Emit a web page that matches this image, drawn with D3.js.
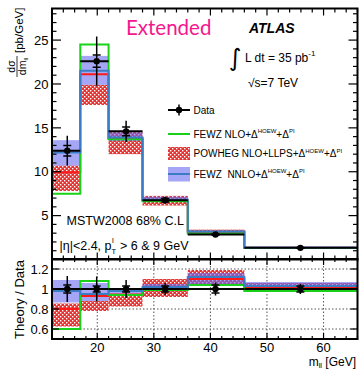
<!DOCTYPE html>
<html>
<head>
<meta charset="utf-8">
<script src="https://cdn.jsdelivr.net/npm/d3@7"></script>
<style>
  body { margin: 0; background: #fff; }
  svg text { font-family: "Liberation Sans", Arial, sans-serif; fill: #000; }
</style>
</head>
<body>
<svg id="chart" width="360" height="369"></svg>
<script>
// bins in m_ll [GeV]
const binEdges = [12, 17, 22, 28, 36, 46, 66];

// top panel: dsigma/dm_ll [pb/GeV]
const dataX = [14.7, 19.9, 25.1, 32.0, 40.9, 55.9];
const dataY = [12.4, 22.6, 14.6, 6.75, 2.85, 1.33];
const dataStat = [0.6, 0.7, 0.5, 0.2, 0.08, 0.04];
const dataTotal = [1.7, 2.8, 1.2, 0.4, 0.14, 0.07];
const nloY = [7.5, 24.5, 13.7, 6.65, 2.95, 1.31];
const powhegY = [9.95, 21.1, 13.8, 6.75, 3.15, 1.35];
const powhegLo = [7.8, 17.6, 12.0, 6.15, 2.95, 1.29];
const powhegHi = [10.7, 19.9, 14.6, 7.25, 3.4, 1.41];
const nnloY = [12.2, 21.5, 13.9, 6.8, 3.2, 1.37];
const nnloLo = [10.7, 19.9, 13.5, 6.6, 3.0, 1.32];
const nnloHi = [13.6, 23.2, 14.5, 7.15, 3.3, 1.42];

// bottom panel: theory / data
const ratioStat = [0.04, 0.03, 0.03, 0.03, 0.04, 0.03];
const ratioTotal = [0.13, 0.125, 0.09, 0.06, 0.065, 0.05];
const ratioNlo = [0.6, 1.08, 0.94, 0.99, 1.04, 0.98];
const ratioPowheg = [0.8, 0.93, 0.945, 1.0, 1.1, 1.01];
const ratioPowhegLo = [0.625, 0.78, 0.825, 0.92, 1.04, 0.97];
const ratioPowhegHi = [0.855, 0.88, 0.935, 1.1, 1.19, 1.06];
const ratioNnlo = [0.98, 0.95, 0.98, 1.02, 1.12, 1.03];
const ratioNnloLo = [0.865, 0.88, 0.95, 0.99, 1.05, 0.99];
const ratioNnloHi = [1.09, 1.06, 1.0, 1.05, 1.16, 1.07];

// axes ticks
const xMajor = [20, 30, 40, 50, 60];
const xMinor = d3.range(12, 67, 2).filter(v => !xMajor.includes(v));
const yTopMajor = [5, 10, 15, 20, 25];
const yTopMinor = d3.range(1, 29).filter(v => !yTopMajor.includes(v));
const yRatMajor = [0.6, 0.8, 1, 1.2];
const yRatLabels = ['0.6', '0.8', '1', '1.2'];

const GREEN = '#19d119';
const RED = '#ff1a1a';
const BLUE_LINE = '#3b7cc6';

const svg = d3.select('#chart');
const left = 52, right = 357.5;
const x = d3.scaleLinear().domain([12, 66]).range([left, right]);
const yTop = d3.scaleLinear().domain([0, 28.6]).range([259.5, 8.5]);
const yRat = d3.scaleLinear().domain([0.5, 1.3]).range([339, 259]);

const defs = svg.append('defs');
const pat = defs.append('pattern')
  .attr('id', 'redHatch')
  .attr('width', 4).attr('height', 4)
  .attr('patternUnits', 'userSpaceOnUse');
pat.append('rect').attr('width', 4).attr('height', 4).attr('fill', '#e43434');
pat.append('rect').attr('x', 0).attr('y', 0).attr('width', 1.4).attr('height', 1.4).attr('fill', '#fff');
pat.append('rect').attr('x', 2).attr('y', 2).attr('width', 1.4).attr('height', 1.4).attr('fill', '#fff');

defs.append('clipPath').attr('id', 'clipTop')
  .append('rect').attr('x', left).attr('y', yTop.range()[1])
  .attr('width', right - left).attr('height', yTop.range()[0] - yTop.range()[1]);
defs.append('clipPath').attr('id', 'clipRat')
  .append('rect').attr('x', left).attr('y', yRat.range()[1])
  .attr('width', right - left).attr('height', yRat.range()[0] - yRat.range()[1]);

const bins = d3.range(binEdges.length - 1);

const stepLine = (values, y) => d3.line()
  .x(d => x(d[0]))
  .y(d => y(d[1]))
  .curve(d3.curveStepAfter)(
    bins.map(i => [binEdges[i], values[i]]).concat([[binEdges[bins.length], values[bins.length - 1]]])
  );

const drawPanel = (g, y, s) => {
  // red POWHEG band
  g.selectAll('rect.powheg').data(bins).enter().append('rect')
    .attr('class', 'powheg')
    .attr('x', i => x(binEdges[i]))
    .attr('width', i => x(binEdges[i + 1]) - x(binEdges[i]))
    .attr('y', i => y(s.powhegHi[i]))
    .attr('height', i => y(s.powhegLo[i]) - y(s.powhegHi[i]))
    .attr('fill', 'url(#redHatch)');
  // blue NNLO band
  g.selectAll('rect.nnlo').data(bins).enter().append('rect')
    .attr('class', 'nnlo')
    .attr('x', i => x(binEdges[i]))
    .attr('width', i => x(binEdges[i + 1]) - x(binEdges[i]))
    .attr('y', i => y(s.nnloHi[i]))
    .attr('height', i => y(s.nnloLo[i]) - y(s.nnloHi[i]))
    .attr('fill', '#6a6af0').attr('fill-opacity', 0.6);

  g.append('path').attr('d', stepLine(s.powheg, y))
    .attr('fill', 'none').attr('stroke', RED).attr('stroke-width', 2);
  g.append('path').attr('d', stepLine(s.nlo, y))
    .attr('fill', 'none').attr('stroke', GREEN).attr('stroke-width', 2);
  g.append('path').attr('d', stepLine(s.nnlo, y))
    .attr('fill', 'none').attr('stroke', BLUE_LINE).attr('stroke-width', 2);

  // data points
  const pts = g.selectAll('g.pt').data(bins).enter().append('g').attr('class', 'pt');
  pts.append('line')
    .attr('x1', i => x(binEdges[i])).attr('x2', i => x(binEdges[i + 1]))
    .attr('y1', i => y(s.dataY[i])).attr('y2', i => y(s.dataY[i]))
    .attr('stroke', '#000').attr('stroke-width', 2);
  pts.append('line')
    .attr('x1', i => x(dataX[i])).attr('x2', i => x(dataX[i]))
    .attr('y1', i => y(s.dataY[i] + s.total[i])).attr('y2', i => y(s.dataY[i] - s.total[i]))
    .attr('stroke', '#000').attr('stroke-width', 1.5);
  [1, -1].forEach(sign => {
    pts.append('line')
      .attr('x1', i => x(dataX[i]) - 4).attr('x2', i => x(dataX[i]) + 4)
      .attr('y1', i => y(s.dataY[i] + sign * s.stat[i]))
      .attr('y2', i => y(s.dataY[i] + sign * s.stat[i]))
      .attr('stroke', '#000').attr('stroke-width', 1.5);
  });
  pts.append('circle')
    .attr('cx', i => x(dataX[i])).attr('cy', i => y(s.dataY[i]))
    .attr('r', 3.2).attr('fill', '#000');
};

const drawTicks = (y, yMajor, yMinor, xLenMaj, xLenMin, yLenMaj, yLenMin) => {
  const g = svg.append('g').attr('stroke', '#000').attr('stroke-width', 1.2);
  const [yb, yt] = y.range();
  const xt = xMajor.map(v => [v, xLenMaj]).concat(xMinor.map(v => [v, xLenMin]));
  xt.forEach(([v, len]) => {
    g.append('line').attr('x1', x(v)).attr('x2', x(v)).attr('y1', yt).attr('y2', yt + len);
    g.append('line').attr('x1', x(v)).attr('x2', x(v)).attr('y1', yb).attr('y2', yb - len);
  });
  const ytk = yMajor.map(v => [v, yLenMaj]).concat(yMinor.map(v => [v, yLenMin]));
  ytk.forEach(([v, len]) => {
    g.append('line').attr('x1', left).attr('x2', left + len).attr('y1', y(v)).attr('y2', y(v));
    g.append('line').attr('x1', right).attr('x2', right - len).attr('y1', y(v)).attr('y2', y(v));
  });
  svg.append('rect')
    .attr('x', left).attr('y', yt).attr('width', right - left).attr('height', yb - yt)
    .attr('fill', 'none').attr('stroke', '#000').attr('stroke-width', 2);
};

// ---------- top panel ----------
const topPanel = svg.append('g').attr('clip-path', 'url(#clipTop)');
drawPanel(topPanel, yTop, {
  dataY: dataY, stat: dataStat, total: dataTotal,
  nlo: nloY, powheg: powhegY, powhegLo: powhegLo, powhegHi: powhegHi,
  nnlo: nnloY, nnloLo: nnloLo, nnloHi: nnloHi
});
drawTicks(yTop, yTopMajor, yTopMinor, 7, 4, 9, 4.5);

svg.append('g').selectAll('text').data(yTopMajor).enter().append('text')
  .attr('x', 48.5).attr('y', d => yTop(d) + 4.7)
  .attr('text-anchor', 'end').attr('font-size', 13)
  .text(d => d);

// ---------- ratio panel ----------
const ratPanel = svg.append('g').attr('clip-path', 'url(#clipRat)');
const grid = ratPanel.append('g').attr('stroke', '#555').attr('stroke-width', 1).attr('stroke-dasharray', '1.5,2');
xMajor.forEach(v => grid.append('line').attr('x1', x(v)).attr('x2', x(v)).attr('y1', yRat(1.3)).attr('y2', yRat(0.5)));
[0.6, 0.8, 1.2].forEach(v => grid.append('line').attr('x1', left).attr('x2', right).attr('y1', yRat(v)).attr('y2', yRat(v)));

drawPanel(ratPanel, yRat, {
  dataY: bins.map(() => 1), stat: ratioStat, total: ratioTotal,
  nlo: ratioNlo, powheg: ratioPowheg, powhegLo: ratioPowhegLo, powhegHi: ratioPowhegHi,
  nnlo: ratioNnlo, nnloLo: ratioNnloLo, nnloHi: ratioNnloHi
});
drawTicks(yRat, yRatMajor, [], 6, 3, 7, 3);

svg.append('g').selectAll('text').data(yRatMajor).enter().append('text')
  .attr('x', 48.5).attr('y', d => yRat(d) + 4.7)
  .attr('text-anchor', 'end').attr('font-size', 13)
  .text((d, i) => yRatLabels[i]);

svg.append('g').selectAll('text').data(xMajor).enter().append('text')
  .attr('x', d => x(d)).attr('y', 351.5)
  .attr('text-anchor', 'middle').attr('font-size', 13)
  .text(d => d);

// x title
const xTitle = svg.append('text').attr('x', 356).attr('y', 365.5).attr('text-anchor', 'end').attr('font-size', 12);
xTitle.append('tspan').text('m');
xTitle.append('tspan').attr('font-size', 7.5).attr('dy', 2).text('ll');
xTitle.append('tspan').attr('dy', -2).text(' [GeV]');

// y titles
const yTitle = svg.append('g').attr('transform', 'rotate(-90)');
yTitle.append('text').attr('x', -66.5).attr('y', 15).attr('text-anchor', 'middle').attr('font-size', 10.5).text('dσ');
yTitle.append('line').attr('x1', -77).attr('x2', -56).attr('y1', 17).attr('y2', 17)
  .attr('stroke', '#000').attr('stroke-width', 0.8);
const den = yTitle.append('text').attr('x', -66.5).attr('y', 25.5).attr('text-anchor', 'middle').attr('font-size', 10.5);
den.append('tspan').text('dm');
den.append('tspan').attr('font-size', 6).attr('dy', 2).text('ll');
yTitle.append('text').attr('x', -53).attr('y', 23).attr('font-size', 11.5).text('[pb/GeV]');
yTitle.append('text').attr('x', -299.5).attr('y', 23.5).attr('text-anchor', 'middle').attr('font-size', 13).text('Theory / Data');

// ---------- annotations ----------
svg.append('text').attr('x', 126).attr('y', 35)
  .style('font-family', 'Lato, "Open Sans", sans-serif')
  .attr('font-size', 20.5).style('fill', '#f5168e').text('Extended');
svg.append('text').attr('x', 249).attr('y', 33)
  .attr('font-size', 14).attr('font-weight', 'bold').attr('font-style', 'italic').text('ATLAS');
svg.append('text').attr('x', 229).attr('y', 66)
  .style('font-family', '"DejaVu Sans", sans-serif').attr('font-size', 24).text('∫');
const lumi = svg.append('text').attr('x', 245).attr('y', 62).attr('font-size', 12);
lumi.append('tspan').text('L dt = 35 pb');
lumi.append('tspan').attr('font-size', 8).attr('dy', -6).text('-1');
svg.append('text').attr('x', 248).attr('y', 87).attr('font-size', 12).text('√s=7 TeV');

svg.append('text').attr('x', 66.5).attr('y', 225).attr('font-size', 12.5).text('MSTW2008 68% C.L');

// |eta| and pT cut line, with the sub/superscript placed by measuring the text
const cutHead = svg.append('text').attr('x', 59.5).attr('y', 250).attr('font-size', 12.5).text('|η|<2.4, p');
const headEnd = 59.5 + cutHead.node().getComputedTextLength();
svg.append('text').attr('x', headEnd).attr('y', 253.5).attr('font-size', 7.5).text('T');
svg.append('text').attr('x', headEnd + 0.5).attr('y', 243).attr('font-size', 7.5).text('l');
svg.append('text').attr('x', headEnd + 8.5).attr('y', 250).attr('font-size', 12.5).text('> 6 & 9 GeV');

// ---------- legend ----------
const lg = svg.append('g');
const lx0 = 168, lx1 = 190, tx = 193.5;
lg.append('line').attr('x1', lx0).attr('x2', lx1).attr('y1', 110).attr('y2', 110).attr('stroke', '#000').attr('stroke-width', 2);
lg.append('line').attr('x1', 179).attr('x2', 179).attr('y1', 104.5).attr('y2', 115.5).attr('stroke', '#000').attr('stroke-width', 1.5);
lg.append('circle').attr('cx', 179).attr('cy', 110).attr('r', 3.2).attr('fill', '#000');
lg.append('line').attr('x1', lx0).attr('x2', lx1).attr('y1', 134).attr('y2', 134).attr('stroke', GREEN).attr('stroke-width', 2);
lg.append('rect').attr('x', lx0).attr('y', 147).attr('width', lx1 - lx0).attr('height', 13).attr('fill', 'url(#redHatch)');
lg.append('rect').attr('x', lx0).attr('y', 167).attr('width', lx1 - lx0).attr('height', 14.5)
  .attr('fill', '#6a6af0').attr('fill-opacity', 0.6);
lg.append('line').attr('x1', lx0).attr('x2', lx1).attr('y1', 174).attr('y2', 174).attr('stroke', BLUE_LINE).attr('stroke-width', 2);

const legendLabels = [
  { y: 113.5, parts: ['Data'] },
  { y: 137.5, parts: ['FEWZ NLO+Δ', 'HOEW', '+Δ', 'PI'] },
  { y: 157, parts: ['POWHEG NLO+LLPS+Δ', 'HOEW', '+Δ', 'PI'] },
  { y: 177.5, parts: ['FEWZ  NNLO+Δ', 'HOEW', '+Δ', 'PI'] }
];
legendLabels.forEach(l => {
  const t = lg.append('text').attr('x', tx).attr('y', l.y).attr('font-size', 10)
    .attr('xml:space', 'preserve').style('white-space', 'pre');
  l.parts.forEach((p, i) => {
    const sup = i % 2 === 1;
    t.append('tspan')
      .attr('font-size', sup ? 6 : 10)
      .attr('dy', i === 0 ? 0 : (sup ? -4.5 : 4.5))
      .text(p);
  });
});
</script>
</body>
</html>
